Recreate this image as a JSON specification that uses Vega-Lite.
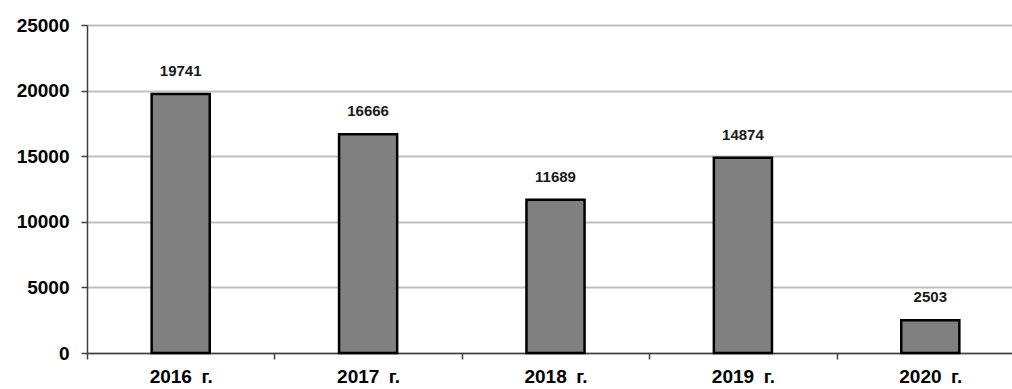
{
  "$schema": "https://vega.github.io/schema/vega-lite/v6.json",
  "width": 925,
  "height": 328,
  "autosize": {"type": "none"},
  "padding": {"left": 87, "top": 25, "right": 0, "bottom": 36},
  "background": "white",
  "config": {
    "view": {"stroke": null},
    "font": "Liberation Sans"
  },
  "data": {
    "values": [
      {"year": "2016 г.", "value": 19741},
      {"year": "2017 г.", "value": 16666},
      {"year": "2018 г.", "value": 11689},
      {"year": "2019 г.", "value": 14874},
      {"year": "2020 г.", "value": 2503}
    ]
  },
  "encoding": {
    "x": {
      "field": "year",
      "type": "nominal",
      "sort": null,
      "scale": {"range": [0, 937], "paddingInner": 0, "paddingOuter": 0},
      "axis": {
        "title": null,
        "labelAngle": 0,
        "tickBand": "extent",
        "labelFont": "Liberation Sans",
        "labelFontSize": 19,
        "labelFontWeight": "bold",
        "labelColor": "#000000",
        "labelPadding": 8,
        "tickSize": 6,
        "tickColor": "#404040",
        "tickWidth": 1.5,
        "domainColor": "#404040",
        "domainWidth": 1.5,
        "grid": false,
        "labelExpr": "replace(datum.label, ' г.', '\u2002г.')"
      }
    },
    "y": {
      "field": "value",
      "type": "quantitative",
      "scale": {"domain": [0, 25000], "nice": false},
      "axis": {
        "title": null,
        "values": [0, 5000, 10000, 15000, 20000, 25000],
        "format": "d",
        "labelFont": "Liberation Sans",
        "labelFontSize": 19,
        "labelFontWeight": "bold",
        "labelColor": "#000000",
        "labelPadding": 12,
        "tickSize": 6,
        "tickColor": "#404040",
        "tickWidth": 1.5,
        "domainColor": "#404040",
        "domainWidth": 1.5,
        "grid": true,
        "gridColor": "#c0c0c0",
        "gridWidth": 2
      }
    }
  },
  "layer": [
    {
      "mark": {"type": "bar", "width": {"band": 0.31}, "fill": "#808080", "stroke": "#000000", "strokeWidth": 2.5}
    },
    {
      "mark": {
        "type": "text",
        "baseline": "bottom",
        "dy": -15,
        "font": "Liberation Sans",
        "fontSize": 15,
        "fontWeight": "bold",
        "color": "#1a1a1a"
      },
      "encoding": {"text": {"field": "value", "type": "quantitative", "format": "d"}}
    }
  ]
}
